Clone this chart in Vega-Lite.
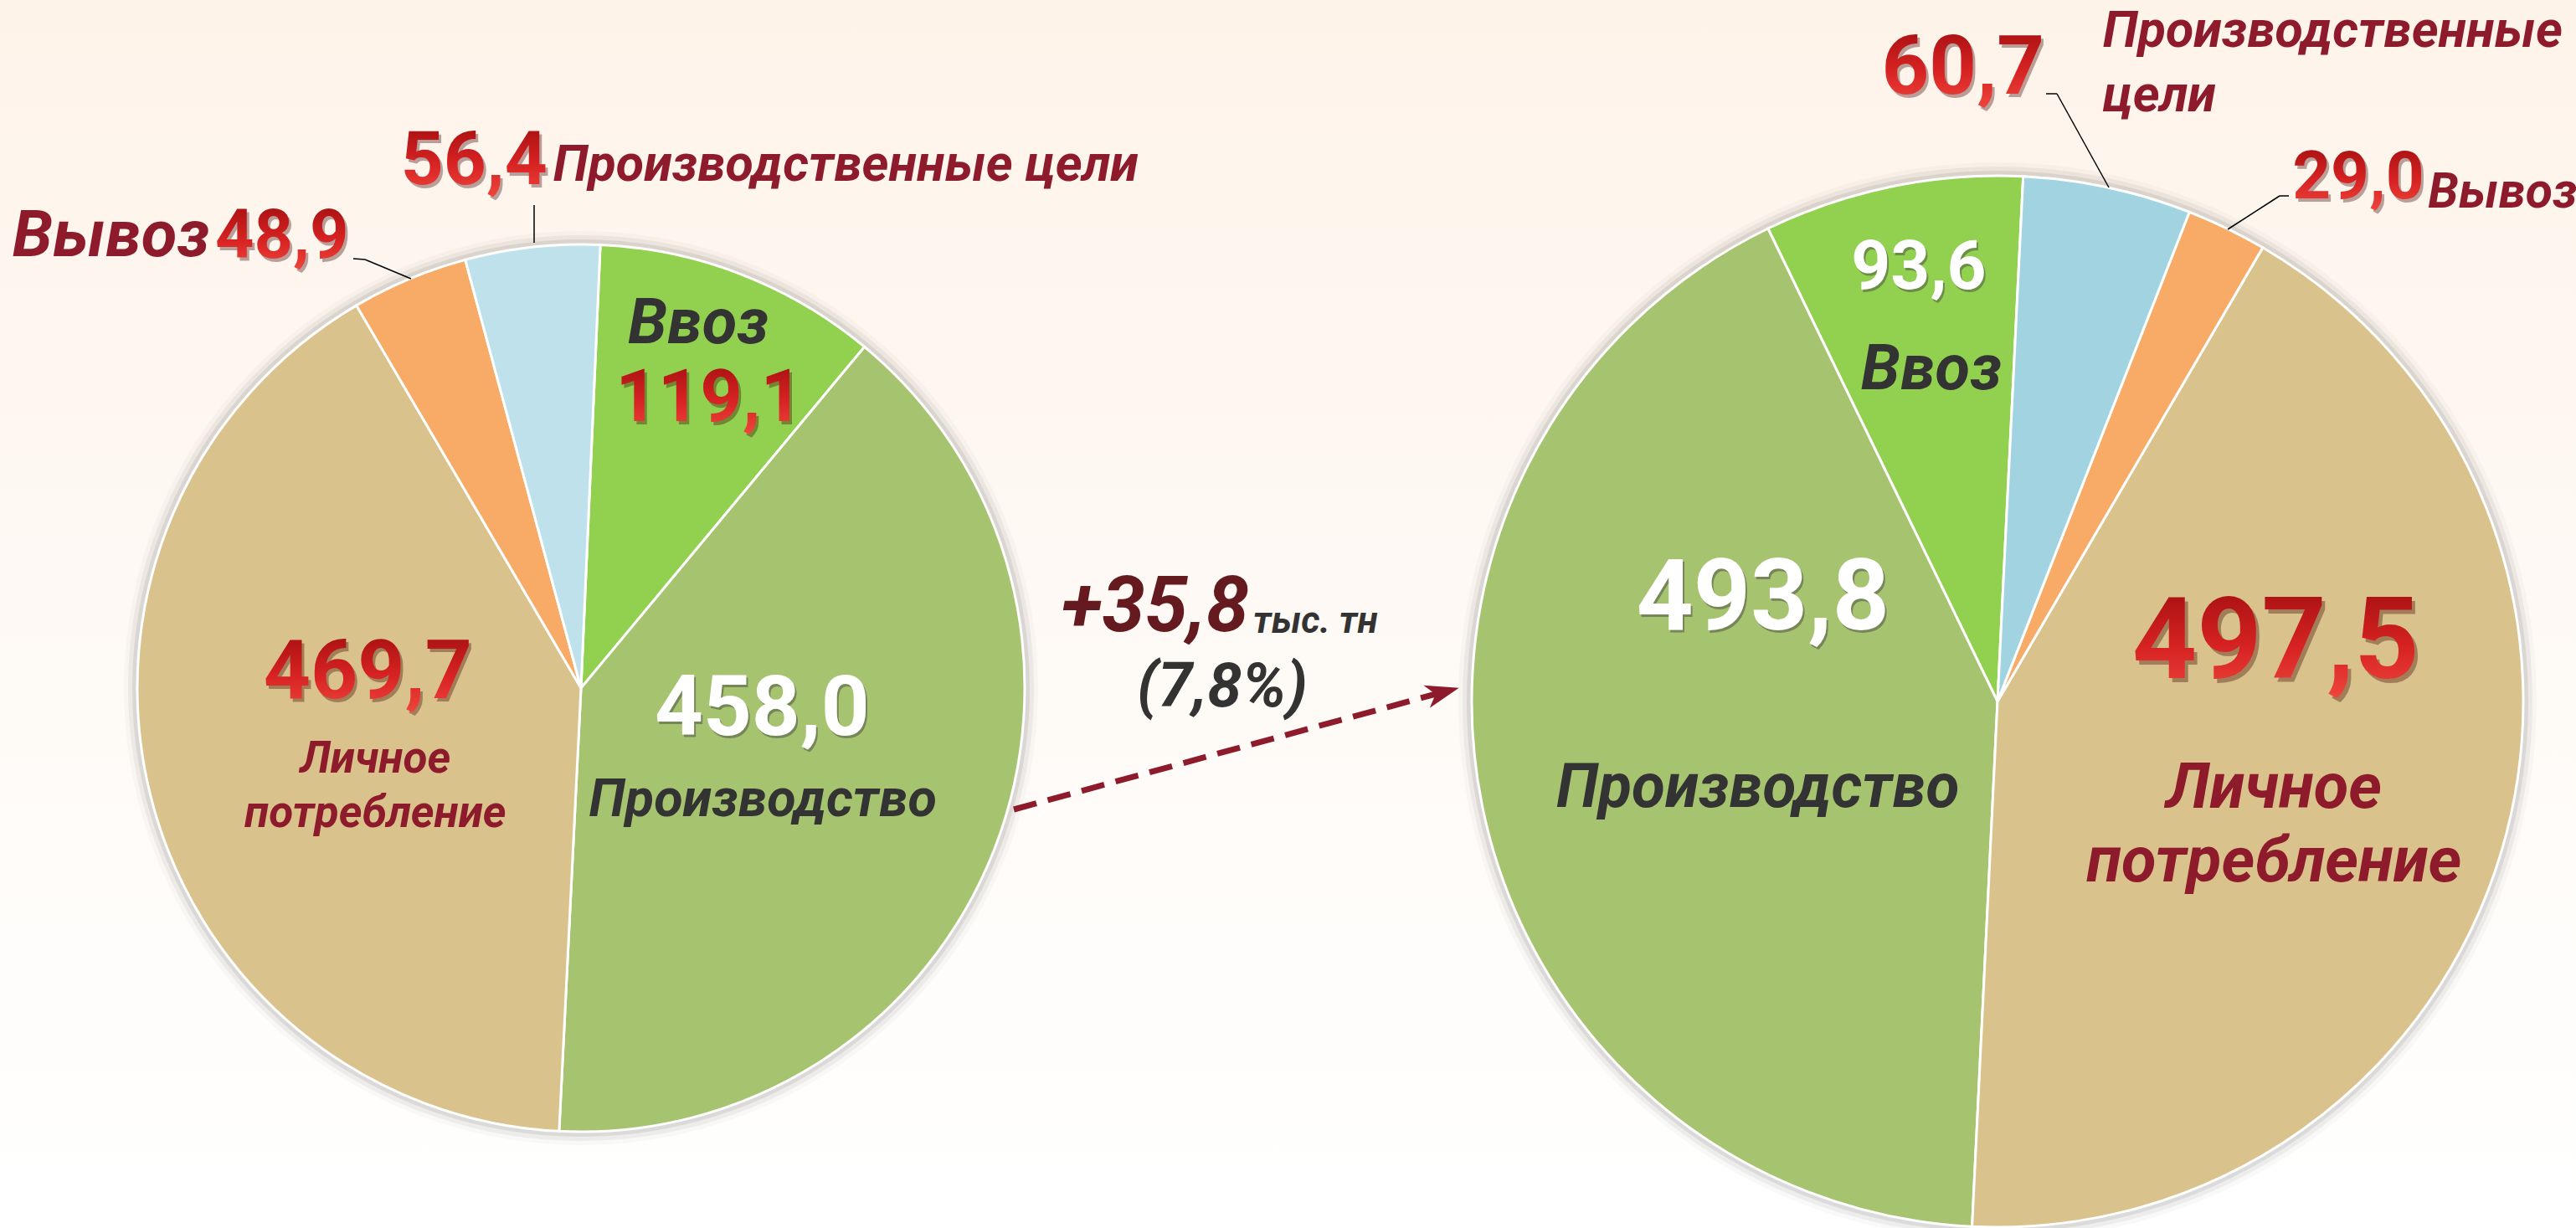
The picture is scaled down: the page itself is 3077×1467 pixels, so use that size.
{
  "$schema": "https://vega.github.io/schema/vega-lite/v6.json",
  "width": 3077,
  "height": 1467,
  "autosize": "none",
  "padding": 0,
  "background": "#ffffff",
  "config": {
    "view": {"stroke": null, "fill": {"gradient": "linear", "x1": 0, "y1": 0, "x2": 0, "y2": 1, "stops": [{"offset": 0, "color": "#FEF3E9"}, {"offset": 0.55, "color": "#FEFAF6"}, {"offset": 1, "color": "#FFFFFF"}]}},
    "font": "Roboto",
    "locale": {"number": {"decimal": ",", "thousands": " ", "grouping": [3], "currency": ["", ""]}}
  },
  "datasets": {
    "pies": [
      {"period": "период 1", "cat": "Ввоз", "value": 119.1},
      {"period": "период 1", "cat": "Производство", "value": 458.0},
      {"period": "период 1", "cat": "Личное потребление", "value": 469.7},
      {"period": "период 1", "cat": "Вывоз", "value": 48.9},
      {"period": "период 1", "cat": "Производственные цели", "value": 56.4},
      {"period": "период 2", "cat": "Ввоз", "value": 93.6},
      {"period": "период 2", "cat": "Производство", "value": 493.8},
      {"period": "период 2", "cat": "Личное потребление", "value": 497.5},
      {"period": "период 2", "cat": "Вывоз", "value": 29.0},
      {"period": "период 2", "cat": "Производственные цели", "value": 60.7}
    ],
    "note": [{"change": 35.8, "unit": "тыс. тн", "pct_label": "(7,8%)"}]
  },
  "data": {"name": "pies"},
  "encoding": {
    "x": {"field": "period", "type": "nominal", "scale": {"type": "point", "domain": ["период 1", "изменение", "период 2"], "range": [694, 2386], "padding": 0}, "axis": null},
    "y": {"field": "period", "type": "nominal", "scale": {"type": "point", "domain": ["период 1", "изменение", "период 2"], "range": [822, 838], "padding": 0}, "axis": null}
  },
  "layer": [
    {
      "transform": [{"filter": "datum.period === 'период 1'"}, {"window": [{"op": "row_number", "as": "n"}]}],
      "encoding": {
        "theta": {"field": "value", "type": "quantitative", "stack": true, "scale": {"range": [0.0436, 6.3268]}},
        "order": {"field": "n", "type": "quantitative", "sort": "ascending"}
      },
      "layer": [
        {"mark": {"type": "arc", "radius": 546, "fill": "#5a5a5a", "opacity": 0.04}},
        {"mark": {"type": "arc", "radius": 541, "fill": "#5a5a5a", "opacity": 0.07}},
        {"mark": {"type": "arc", "radius": 536, "fill": "#5a5a5a", "opacity": 0.12}},
        {"mark": {"type": "arc", "radius": 530, "stroke": "#ffffff", "strokeWidth": 3},
         "encoding": {"color": {"field": "cat", "type": "nominal", "legend": null,
           "scale": {"domain": ["Ввоз", "Производство", "Личное потребление", "Вывоз", "Производственные цели"], "range": ["#92D050", "#A6C36F", "#D9C28B", "#F8AA67", "#BFE1EC"]}}}},

        {"mark": {"type": "text", "radius": 417, "dx": -10, "dy": -46, "fontSize": 76, "fontWeight": "bold", "fontStyle": "italic", "fill": "#333333"},
         "encoding": {"text": {"condition": {"test": "datum.cat === 'Ввоз'", "field": "cat", "type": "nominal"}, "value": ""}}},
        {"mark": {"type": "text", "radius": 417, "dx": 6, "dy": 48, "fontSize": 88, "fontWeight": "bold", "fill": "#3a0000", "opacity": 0.35},
         "encoding": {"text": {"condition": {"test": "datum.cat === 'Ввоз'", "field": "value", "type": "quantitative", "format": ".1f"}, "value": ""}}},
        {"mark": {"type": "text", "radius": 417, "dx": 3, "dy": 44, "fontSize": 88, "fontWeight": "bold",
                  "fill": {"gradient": "linear", "x1": 0, "y1": 0, "x2": 0, "y2": 1, "stops": [{"offset": 0, "color": "#9C0C0E"}, {"offset": 0.55, "color": "#D62222"}, {"offset": 1, "color": "#F24A40"}]}},
         "encoding": {"text": {"condition": {"test": "datum.cat === 'Ввоз'", "field": "value", "type": "quantitative", "format": ".1f"}, "value": ""}}},

        {"mark": {"type": "text", "radius": 231, "dx": 3, "dy": -55, "fontSize": 101, "fontWeight": "bold", "fill": "#3d3d3d", "opacity": 0.45},
         "encoding": {"text": {"condition": {"test": "datum.cat === 'Производство'", "field": "value", "type": "quantitative", "format": ".1f"}, "value": ""}}},
        {"mark": {"type": "text", "radius": 231, "dx": 1, "dy": -58, "fontSize": 101, "fontWeight": "bold", "fill": "#ffffff"},
         "encoding": {"text": {"condition": {"test": "datum.cat === 'Производство'", "field": "value", "type": "quantitative", "format": ".1f"}, "value": ""}}},
        {"mark": {"type": "text", "radius": 231, "dx": 2, "dy": 50, "fontSize": 63, "fontWeight": "bold", "fontStyle": "italic", "fill": "#333333"},
         "encoding": {"text": {"condition": {"test": "datum.cat === 'Производство'", "field": "cat", "type": "nominal"}, "value": ""}}},

        {"mark": {"type": "text", "radius": 255, "dx": -4, "dy": -74, "fontSize": 98, "fontWeight": "bold", "fill": "#3a0000", "opacity": 0.35},
         "encoding": {"text": {"condition": {"test": "datum.cat === 'Личное потребление'", "field": "value", "type": "quantitative", "format": ".1f"}, "value": ""}}},
        {"mark": {"type": "text", "radius": 255, "dx": -7, "dy": -78, "fontSize": 98, "fontWeight": "bold",
                  "fill": {"gradient": "linear", "x1": 0, "y1": 0, "x2": 0, "y2": 1, "stops": [{"offset": 0, "color": "#9C0C0E"}, {"offset": 0.55, "color": "#D62222"}, {"offset": 1, "color": "#F24A40"}]}},
         "encoding": {"text": {"condition": {"test": "datum.cat === 'Личное потребление'", "field": "value", "type": "quantitative", "format": ".1f"}, "value": ""}}},
        {"mark": {"type": "text", "radius": 255, "dx": 2, "dy": 24, "fontSize": 53, "lineBreak": " ", "lineHeight": 65, "fontWeight": "bold", "fontStyle": "italic", "fill": "#8E1B2C"},
         "encoding": {"text": {"condition": {"test": "datum.cat === 'Личное потребление'", "field": "cat", "type": "nominal"}, "value": ""}}},

        {"mark": {"type": "text", "radius": 630, "align": "right", "dx": 32, "dy": 1, "fontSize": 89, "fontWeight": "bold", "fill": "#3a0000", "opacity": 0.35},
         "encoding": {"text": {"condition": {"test": "datum.cat === 'Производственные цели'", "field": "value", "type": "quantitative", "format": ".1f"}, "value": ""}}},
        {"mark": {"type": "text", "radius": 630, "align": "right", "dx": 29, "dy": -3, "fontSize": 89, "fontWeight": "bold",
                  "fill": {"gradient": "linear", "x1": 0, "y1": 0, "x2": 0, "y2": 1, "stops": [{"offset": 0, "color": "#9C0C0E"}, {"offset": 0.55, "color": "#D62222"}, {"offset": 1, "color": "#F24A40"}]}},
         "encoding": {"text": {"condition": {"test": "datum.cat === 'Производственные цели'", "field": "value", "type": "quantitative", "format": ".1f"}, "value": ""}}},
        {"mark": {"type": "text", "radius": 630, "align": "left", "dx": 36, "dy": 2, "fontSize": 61, "fontWeight": "bold", "fontStyle": "italic", "fill": "#8E1B2C"},
         "encoding": {"text": {"condition": {"test": "datum.cat === 'Производственные цели'", "field": "cat", "type": "nominal"}, "value": ""}}},

        {"mark": {"type": "text", "radius": 583, "align": "right", "dx": -49, "dy": 4, "fontSize": 81, "fontWeight": "bold", "fill": "#3a0000", "opacity": 0.35},
         "encoding": {"text": {"condition": {"test": "datum.cat === 'Вывоз'", "field": "value", "type": "quantitative", "format": ".1f"}, "value": ""}}},
        {"mark": {"type": "text", "radius": 583, "align": "right", "dx": -52, "dy": 0, "fontSize": 81, "fontWeight": "bold",
                  "fill": {"gradient": "linear", "x1": 0, "y1": 0, "x2": 0, "y2": 1, "stops": [{"offset": 0, "color": "#9C0C0E"}, {"offset": 0.55, "color": "#D62222"}, {"offset": 1, "color": "#F24A40"}]}},
         "encoding": {"text": {"condition": {"test": "datum.cat === 'Вывоз'", "field": "value", "type": "quantitative", "format": ".1f"}, "value": ""}}},
        {"mark": {"type": "text", "radius": 583, "align": "right", "dx": -218, "dy": -1, "fontSize": 78, "fontWeight": "bold", "fontStyle": "italic", "fill": "#8E1B2C"},
         "encoding": {"text": {"condition": {"test": "datum.cat === 'Вывоз'", "field": "cat", "type": "nominal"}, "value": ""}}}
      ]
    },
    {
      "transform": [{"filter": "datum.period === 'период 2'"}, {"window": [{"op": "row_number", "as": "n"}]}],
      "encoding": {
        "theta": {"field": "value", "type": "quantitative", "stack": true, "scale": {"range": [0.0489, 6.3321]}},
        "order": {"field": "n", "type": "quantitative", "sort": "descending"}
      },
      "layer": [
        {"mark": {"type": "arc", "radius": 644, "fill": "#5a5a5a", "opacity": 0.04}},
        {"mark": {"type": "arc", "radius": 639, "fill": "#5a5a5a", "opacity": 0.07}},
        {"mark": {"type": "arc", "radius": 634, "fill": "#5a5a5a", "opacity": 0.12}},
        {"mark": {"type": "arc", "radius": 628, "stroke": "#ffffff", "strokeWidth": 3},
         "encoding": {"color": {"field": "cat", "type": "nominal", "legend": null,
           "scale": {"domain": ["Ввоз", "Производство", "Личное потребление", "Вывоз", "Производственные цели"], "range": ["#92D050", "#A6C36F", "#D9C28B", "#F8AA67", "#A2D3E0"]}}}},

        {"mark": {"type": "text", "radius": 465, "dx": 1, "dy": -59, "fontSize": 82, "fontWeight": "bold", "fill": "#3d3d3d", "opacity": 0.45},
         "encoding": {"text": {"condition": {"test": "datum.cat === 'Ввоз'", "field": "value", "type": "quantitative", "format": ".1f"}, "value": ""}}},
        {"mark": {"type": "text", "radius": 465, "dx": -1, "dy": -62, "fontSize": 82, "fontWeight": "bold", "fill": "#ffffff"},
         "encoding": {"text": {"condition": {"test": "datum.cat === 'Ввоз'", "field": "value", "type": "quantitative", "format": ".1f"}, "value": ""}}},
        {"mark": {"type": "text", "radius": 465, "dx": 14, "dy": 60, "fontSize": 76, "fontWeight": "bold", "fontStyle": "italic", "fill": "#333333"},
         "encoding": {"text": {"condition": {"test": "datum.cat === 'Ввоз'", "field": "cat", "type": "nominal"}, "value": ""}}},

        {"mark": {"type": "text", "radius": 283, "dx": -1, "dy": -176, "fontSize": 119, "fontWeight": "bold", "fill": "#3d3d3d", "opacity": 0.45},
         "encoding": {"text": {"condition": {"test": "datum.cat === 'Производство'", "field": "value", "type": "quantitative", "format": ".1f"}, "value": ""}}},
        {"mark": {"type": "text", "radius": 283, "dx": -3, "dy": -179, "fontSize": 119, "fontWeight": "bold", "fill": "#ffffff"},
         "encoding": {"text": {"condition": {"test": "datum.cat === 'Производство'", "field": "value", "type": "quantitative", "format": ".1f"}, "value": ""}}},
        {"mark": {"type": "text", "radius": 283, "dx": -9, "dy": 47, "fontSize": 73, "fontWeight": "bold", "fontStyle": "italic", "fill": "#333333"},
         "encoding": {"text": {"condition": {"test": "datum.cat === 'Производство'", "field": "cat", "type": "nominal"}, "value": ""}}},

        {"mark": {"type": "text", "radius": 333, "dx": 17, "dy": -159, "fontSize": 135, "fontWeight": "bold", "fill": "#3a0000", "opacity": 0.35},
         "encoding": {"text": {"condition": {"test": "datum.cat === 'Личное потребление'", "field": "value", "type": "quantitative", "format": ".1f"}, "value": ""}}},
        {"mark": {"type": "text", "radius": 333, "dx": 13, "dy": -164, "fontSize": 135, "fontWeight": "bold",
                  "fill": {"gradient": "linear", "x1": 0, "y1": 0, "x2": 0, "y2": 1, "stops": [{"offset": 0, "color": "#9C0C0E"}, {"offset": 0.55, "color": "#D62222"}, {"offset": 1, "color": "#F24A40"}]}},
         "encoding": {"text": {"condition": {"test": "datum.cat === 'Личное потребление'", "field": "value", "type": "quantitative", "format": ".1f"}, "value": ""}}},
        {"mark": {"type": "text", "radius": 333, "dx": 11, "dy": 9, "fontSize": 76, "lineBreak": " ", "lineHeight": 88, "fontWeight": "bold", "fontStyle": "italic", "fill": "#8E1B2C"},
         "encoding": {"text": {"condition": {"test": "datum.cat === 'Личное потребление'", "field": "cat", "type": "nominal"}, "value": ""}}},

        {"mark": {"type": "text", "radius": 700, "dx": -185, "dy": -68, "fontSize": 99, "fontWeight": "bold", "fill": "#3a0000", "opacity": 0.35},
         "encoding": {"text": {"condition": {"test": "datum.cat === 'Производственные цели'", "field": "value", "type": "quantitative", "format": ".1f"}, "value": ""}}},
        {"mark": {"type": "text", "radius": 700, "dx": -188, "dy": -72, "fontSize": 99, "fontWeight": "bold",
                  "fill": {"gradient": "linear", "x1": 0, "y1": 0, "x2": 0, "y2": 1, "stops": [{"offset": 0, "color": "#9C0C0E"}, {"offset": 0.55, "color": "#D62222"}, {"offset": 1, "color": "#F24A40"}]}},
         "encoding": {"text": {"condition": {"test": "datum.cat === 'Производственные цели'", "field": "value", "type": "quantitative", "format": ".1f"}, "value": ""}}},
        {"mark": {"type": "text", "radius": 700, "align": "left", "dx": -21, "dy": -116, "fontSize": 61, "lineBreak": " ", "lineHeight": 77, "fontWeight": "bold", "fontStyle": "italic", "fill": "#8E1B2C"},
         "encoding": {"text": {"condition": {"test": "datum.cat === 'Производственные цели'", "field": "cat", "type": "nominal"}, "value": ""}}},

        {"mark": {"type": "text", "radius": 700, "align": "left", "dx": 50, "dy": 9, "fontSize": 80, "fontWeight": "bold", "fill": "#3a0000", "opacity": 0.35},
         "encoding": {"text": {"condition": {"test": "datum.cat === 'Вывоз'", "field": "value", "type": "quantitative", "format": ".1f"}, "value": ""}}},
        {"mark": {"type": "text", "radius": 700, "align": "left", "dx": 47, "dy": 5, "fontSize": 80, "fontWeight": "bold",
                  "fill": {"gradient": "linear", "x1": 0, "y1": 0, "x2": 0, "y2": 1, "stops": [{"offset": 0, "color": "#9C0C0E"}, {"offset": 0.55, "color": "#D62222"}, {"offset": 1, "color": "#F24A40"}]}},
         "encoding": {"text": {"condition": {"test": "datum.cat === 'Вывоз'", "field": "value", "type": "quantitative", "format": ".1f"}, "value": ""}}},
        {"mark": {"type": "text", "radius": 700, "align": "left", "dx": 209, "dy": 22, "fontSize": 59, "fontWeight": "bold", "fontStyle": "italic", "fill": "#8E1B2C"},
         "encoding": {"text": {"condition": {"test": "datum.cat === 'Вывоз'", "field": "cat", "type": "nominal"}, "value": ""}}}
      ]
    },
    {"data": {"name": "note"}, "mark": {"type": "rule", "stroke": "#8E1B2C", "strokeWidth": 7, "strokeDash": [28, 14], "strokeCap": "butt", "xOffset": 517, "yOffset": 145, "x2Offset": -667, "y2Offset": -10},
     "encoding": {"x": {"datum": "период 1"}, "y": {"datum": "период 1"}, "x2": {"datum": "период 2"}, "y2": {"datum": "период 2"}}},
    {"data": {"name": "note"}, "mark": {"type": "point", "shape": "M1,0L-1,-0.7L-0.45,0L-1,0.7Z", "size": 1600, "filled": true, "fill": "#8E1B2C", "opacity": 1, "angle": 344.7, "xOffset": -662.6, "yOffset": -11},
     "encoding": {"x": {"datum": "период 2"}, "y": {"datum": "период 2"}}},

    {"data": {"name": "note"}, "mark": {"type": "rule", "stroke": "#000000", "strokeWidth": 1.5, "xOffset": -56, "yOffset": -577, "x2Offset": -56, "y2Offset": -532},
     "encoding": {"x": {"datum": "период 1"}, "y": {"datum": "период 1"}, "x2": {"datum": "период 1"}, "y2": {"datum": "период 1"}}},
    {"data": {"name": "note"}, "mark": {"type": "rule", "stroke": "#000000", "strokeWidth": 1.5, "xOffset": -272, "yOffset": -513, "x2Offset": -258, "y2Offset": -512},
     "encoding": {"x": {"datum": "период 1"}, "y": {"datum": "период 1"}, "x2": {"datum": "период 1"}, "y2": {"datum": "период 1"}}},
    {"data": {"name": "note"}, "mark": {"type": "rule", "stroke": "#000000", "strokeWidth": 1.5, "xOffset": -258, "yOffset": -512, "x2Offset": -203, "y2Offset": -489},
     "encoding": {"x": {"datum": "период 1"}, "y": {"datum": "период 1"}, "x2": {"datum": "период 1"}, "y2": {"datum": "период 1"}}},
    {"data": {"name": "note"}, "mark": {"type": "rule", "stroke": "#000000", "strokeWidth": 1.5, "xOffset": 58, "yOffset": -726, "x2Offset": 71, "y2Offset": -726},
     "encoding": {"x": {"datum": "период 2"}, "y": {"datum": "период 2"}, "x2": {"datum": "период 2"}, "y2": {"datum": "период 2"}}},
    {"data": {"name": "note"}, "mark": {"type": "rule", "stroke": "#000000", "strokeWidth": 1.5, "xOffset": 71, "yOffset": -726, "x2Offset": 133, "y2Offset": -614},
     "encoding": {"x": {"datum": "период 2"}, "y": {"datum": "период 2"}, "x2": {"datum": "период 2"}, "y2": {"datum": "период 2"}}},
    {"data": {"name": "note"}, "mark": {"type": "rule", "stroke": "#000000", "strokeWidth": 1.5, "xOffset": 348, "yOffset": -604, "x2Offset": 337, "y2Offset": -604},
     "encoding": {"x": {"datum": "период 2"}, "y": {"datum": "период 2"}, "x2": {"datum": "период 2"}, "y2": {"datum": "период 2"}}},
    {"data": {"name": "note"}, "mark": {"type": "rule", "stroke": "#000000", "strokeWidth": 1.5, "xOffset": 337, "yOffset": -604, "x2Offset": 275, "y2Offset": -564},
     "encoding": {"x": {"datum": "период 2"}, "y": {"datum": "период 2"}, "x2": {"datum": "период 2"}, "y2": {"datum": "период 2"}}},

    {"data": {"name": "note"}, "mark": {"type": "text", "align": "right", "baseline": "alphabetic", "dx": -48, "dy": -76, "fontSize": 92, "fontWeight": "bold", "fontStyle": "italic", "fill": "#641A1F"},
     "encoding": {"x": {"datum": "изменение"}, "y": {"datum": "изменение"}, "text": {"field": "change", "type": "quantitative", "format": "+.1f"}}},
    {"data": {"name": "note"}, "mark": {"type": "text", "align": "left", "baseline": "alphabetic", "dx": -43, "dy": -74, "fontSize": 44, "fontWeight": "bold", "fontStyle": "italic", "fill": "#333333"},
     "encoding": {"x": {"datum": "изменение"}, "y": {"datum": "изменение"}, "text": {"field": "unit", "type": "nominal"}}},
    {"data": {"name": "note"}, "mark": {"type": "text", "align": "center", "baseline": "middle", "dx": -80, "dy": -8, "fontSize": 74, "fontWeight": "bold", "fontStyle": "italic", "fill": "#333333"},
     "encoding": {"x": {"datum": "изменение"}, "y": {"datum": "изменение"}, "text": {"field": "pct_label", "type": "nominal"}}}
  ],
  "resolve": {"scale": {"theta": "independent", "color": "independent"}}
}
